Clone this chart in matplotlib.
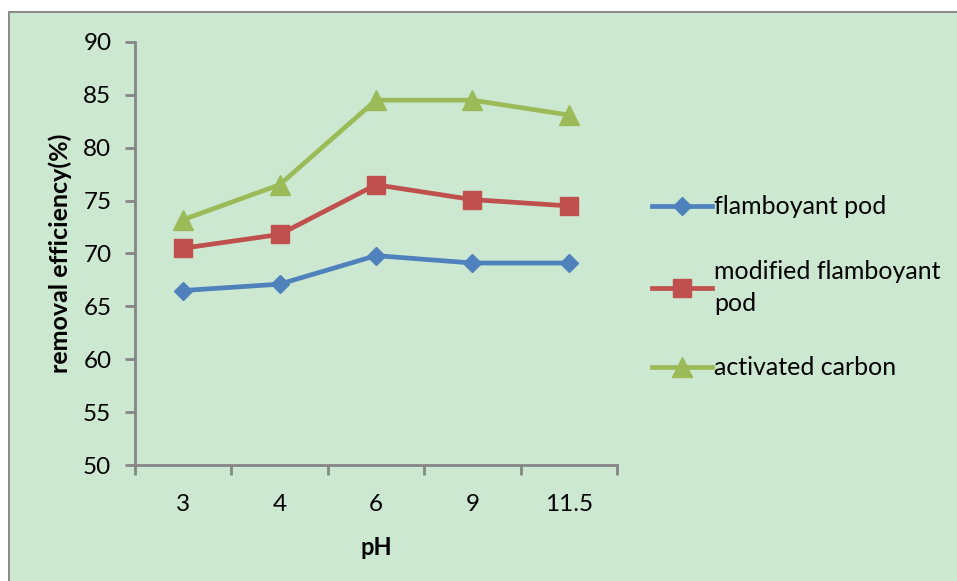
import matplotlib
matplotlib.use("Agg")
import matplotlib.pyplot as plt
from matplotlib.patches import Rectangle

# data
ph_labels = ["3", "4", "6", "9", "11.5"]
flamboyant_pod = [66.5, 67.1, 69.8, 69.1, 69.1]
modified_pod = [70.5, 71.8, 76.5, 75.1, 74.5]
activated_carbon = [73.2, 76.5, 84.5, 84.5, 83.1]

plt.rcParams["font.family"] = ["Lato", "DejaVu Sans"]

fig = plt.figure(figsize=(9.57, 5.81), dpi=100)
fig.patch.set_facecolor("white")

# chart area background with grey frame (clipped at right/bottom like the source)
bg = Rectangle((9 / 957, -0.05), 1.1, 1.05 - 12 / 581, transform=fig.transFigure,
               facecolor="#CDE8D1", edgecolor="#8C8C8C", linewidth=1.5, zorder=-10)
fig.patches.append(bg)

ax = fig.add_axes([135 / 957, 1 - 465 / 581, (617 - 135) / 957, (465 - 42) / 581])
ax.set_facecolor("none")

x = list(range(1, len(ph_labels) + 1))
ax.plot(x, flamboyant_pod, color="#4F81BD", lw=3.4, marker="D", ms=9.5,
        label="flamboyant pod")
ax.plot(x, modified_pod, color="#C0504D", lw=3.4, marker="s", ms=13,
        label="modified flamboyant\npod")
ax.plot(x, activated_carbon, color="#9BBB59", lw=3.4, marker="^", ms=14,
        label="activated carbon")

ax.set_xlim(0.5, len(ph_labels) + 0.5)
ax.set_ylim(50, 90)
ax.set_yticks(range(50, 91, 5))
ax.set_xticks(x)
ax.set_xticklabels(ph_labels)
ax.set_xticks([i + 0.5 for i in range(0, len(ph_labels) + 1)], minor=True)

axis_col = "#868686"
for side in ["top", "right"]:
    ax.spines[side].set_visible(False)
for side in ["left", "bottom"]:
    ax.spines[side].set_color(axis_col)
    ax.spines[side].set_linewidth(2)

ax.tick_params(axis="x", which="major", length=0, pad=21, labelsize=17.5)
ax.tick_params(axis="x", which="minor", length=7, width=2, color=axis_col, direction="out")
ax.tick_params(axis="y", which="major", length=7, width=2, color=axis_col, pad=10, labelsize=17.5)

ax.set_xlabel("pH", fontsize=17, fontweight="bold", labelpad=15)
ax.set_ylabel("removal efficiency(%)", fontsize=18, fontweight="bold", labelpad=8)

leg = ax.legend(loc="center left", bbox_to_anchor=(1.025, 0.42), frameon=False, fontsize=18,
                handlelength=2.4, handletextpad=0.1, labelspacing=1.65)
leg.get_texts()[1].set_linespacing(1.5)

fig.savefig("out.png", dpi=100)
